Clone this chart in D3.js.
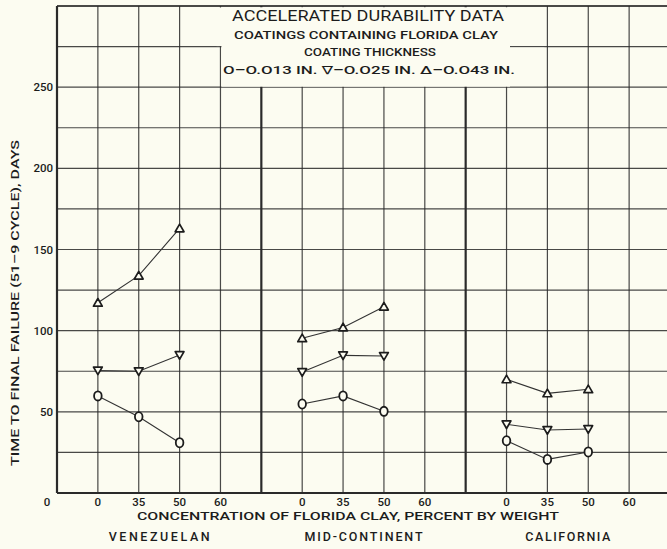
<!DOCTYPE html>
<html>
<head>
<meta charset="utf-8">
<script src="https://cdn.jsdelivr.net/npm/d3@7"></script>
<style>
  html, body { margin: 0; padding: 0; background: #fcfcf1; }
  svg { display: block; }
  text { fill: #1c1c1c; font-family: Roboto, "DejaVu Sans", sans-serif; }
</style>
</head>
<body>
<svg id="chart" width="667" height="549"></svg>
<script>
// ---------- data ----------
const crudes = ["VENEZUELAN", "MID-CONTINENT", "CALIFORNIA"];
const concentrations = ["0", "35", "50", "60"];
const plottedConcentrations = ["0", "35", "50"];
const yTicks = [50, 100, 150, 200, 250];
// coating thickness 0.013 in. (circles)
const thin013 = [[59.8, 47, 31], [54.8, 59.8, 50.3], [32.2, 20.7, 25.3]];
// coating thickness 0.025 in. (down triangles)
const mid025 = [[75.5, 75, 85], [74.5, 84.8, 84.4], [42.3, 38.8, 39.4]];
// coating thickness 0.043 in. (up triangles)
const thick043 = [[117.2, 133.9, 163], [95.3, 102, 114.8], [70, 61.4, 63.9]];
const titleLines = [
  "ACCELERATED DURABILITY DATA",
  "COATINGS  CONTAINING FLORIDA CLAY",
  "COATING THICKNESS",
  "O\u2013O.O13 IN.   \u2207\u2013O.O25 IN.   \u0394\u2013O.O43 IN."
];
const xTitle = "CONCENTRATION OF FLORIDA CLAY, PERCENT BY WEIGHT";
const yTitle = "TIME TO FINAL FAILURE (51\u20139 CYCLE), DAYS";

// ---------- scales ----------
const svg = d3.select("#chart");
const y = d3.scaleLinear().domain([0, 300]).range([493, 6]);
const gx = d3.scaleLinear().domain([0, 15]).range([57, 670]);   // grid column index
const xIn = d3.scalePoint().domain(concentrations).range([1, 4]); // column within a panel
const colOf = (p, c) => 5 * p + xIn(c);

const ink = "#2a2a2a";
const paper = "#fcfcf1";

// ---------- grid ----------
const g = svg.append("g");
const hVals = d3.range(25, 301, 25);
g.selectAll("line.h").data(hVals).join("line")
  .attr("x1", gx(0)).attr("x2", 667)
  .attr("y1", d => y(d)).attr("y2", d => y(d))
  .attr("stroke", ink).attr("stroke-width", d => d === 300 ? 2 : 1.2).attr("opacity", 0.85);
const vCols = d3.range(1, 16);
g.selectAll("line.v").data(vCols).join("line")
  .attr("x1", d => gx(d)).attr("x2", d => gx(d))
  .attr("y1", y(300)).attr("y2", y(0))
  .attr("stroke", ink).attr("stroke-width", d => (d % 5 === 0) ? 2.2 : 1.2).attr("opacity", d => (d % 5 === 0) ? 1 : 0.85);

// title box (paste-over)
g.append("rect").attr("x", gx(4) - 4).attr("y", y(300) + 1.5)
  .attr("width", 510 - (gx(4) - 4)).attr("height", y(275) - y(300) - 2)
  .attr("fill", paper);
g.append("rect").attr("x", gx(4) + 1).attr("y", y(275) + 1)
  .attr("width", gx(12) - 3 - (gx(4) + 1)).attr("height", y(250) - y(275) - 2)
  .attr("fill", paper);
g.append("rect").attr("x", gx(4) + 1).attr("y", y(300) + 1.5)
  .attr("width", 510 - gx(4) - 1).attr("height", y(250) - y(300) - 2)
  .attr("fill", paper);

// axes frame
g.append("line").attr("x1", gx(0)).attr("x2", gx(0)).attr("y1", y(300)).attr("y2", y(0))
  .attr("stroke", ink).attr("stroke-width", 2.2);
g.append("line").attr("x1", gx(0)).attr("x2", 667).attr("y1", y(0)).attr("y2", y(0))
  .attr("stroke", ink).attr("stroke-width", 2.2);

// ---------- data ----------
const series = [
  { vals: thin013, shape: "circle" },
  { vals: mid025, shape: "down" },
  { vals: thick043, shape: "up" }
];
const line = d3.line().x(d => gx(d[0])).y(d => y(d[1]));
const marks = svg.append("g");
series.forEach(s => {
  s.vals.forEach((arr, p) => {
    const pts = arr.map((v, i) => [colOf(p, plottedConcentrations[i]), v]);
    marks.append("path").attr("d", line(pts)).attr("fill", "none")
      .attr("stroke", "#333").attr("stroke-width", 1.1);
    pts.forEach(pt => {
      const cx = gx(pt[0]), cy = y(pt[1]);
      if (s.shape === "circle") {
        marks.append("ellipse").attr("cx", cx).attr("cy", cy).attr("rx", 3.8).attr("ry", 4.6)
          .attr("fill", paper).attr("stroke", "#1c1c1c").attr("stroke-width", 1.8);
      } else {
        const dir = s.shape === "up" ? 1 : -1;
        const path = `M0,${-4.2 * dir} L4.4,${3.4 * dir} L-4.4,${3.4 * dir} Z`;
        marks.append("path").attr("d", path).attr("transform", `translate(${cx},${cy})`)
          .attr("fill", paper).attr("stroke", "#1c1c1c").attr("stroke-width", 1.7)
          .attr("stroke-linejoin", "round");
      }
    });
  });
});

// ---------- text ----------
const t = svg.append("g");
const W = 500;
t.selectAll("text.yt").data(yTicks).join("text")
  .attr("x", 53).attr("y", d => y(d)).attr("dy", "0.36em")
  .attr("text-anchor", "end").attr("font-size", 11.5).attr("font-weight", W)
  .text(d => d);
t.append("text").attr("x", 47).attr("y", 502).attr("dy", "0.36em")
  .attr("text-anchor", "middle").attr("font-size", 11.5).attr("font-weight", W).text("0");

crudes.forEach((name, p) => {
  t.selectAll(null).data(concentrations).join("text")
    .attr("x", c => gx(colOf(p, c))).attr("y", 502).attr("dy", "0.36em")
    .attr("text-anchor", "middle").attr("font-size", 11.5).attr("font-weight", W)
    .text(c => c);
  t.append("text").attr("x", gx(5 * p + 2.5)).attr("y", 536).attr("dy", "0.36em")
    .attr("text-anchor", "middle").attr("font-size", 12.5).attr("font-weight", W)
    .attr("textLength", [101, 118, 85][p]).attr("lengthAdjust", "spacing")
    .text(name);
});

t.append("text").attr("x", 348).attr("y", 516).attr("dy", "0.36em")
  .attr("text-anchor", "middle").attr("font-size", 11.5).attr("font-weight", W)
  .attr("textLength", 422).attr("lengthAdjust", "spacingAndGlyphs").text(xTitle);

t.append("text").attr("transform", "translate(15,303) rotate(-90)").attr("dy", "0.36em")
  .attr("text-anchor", "middle").attr("font-size", 11.5).attr("font-weight", W)
  .attr("textLength", 326).attr("lengthAdjust", "spacingAndGlyphs").text(yTitle);

const tl = [
  { x: 368, y: 16, size: 14.5, w: 400, len: 272 },
  { x: 366, y: 35, size: 11, w: W, len: 264 },
  { x: 370, y: 52, size: 11, w: W, len: 132 },
  { x: 369, y: 70, size: 11.5, w: W, len: 292 }
];
titleLines.forEach((s, i) => {
  t.append("text").attr("x", tl[i].x).attr("y", tl[i].y).attr("dy", "0.36em")
    .attr("text-anchor", "middle").attr("font-size", tl[i].size).attr("font-weight", tl[i].w)
    .attr("textLength", tl[i].len).attr("lengthAdjust", "spacingAndGlyphs").text(s);
});
</script>
</body>
</html>
